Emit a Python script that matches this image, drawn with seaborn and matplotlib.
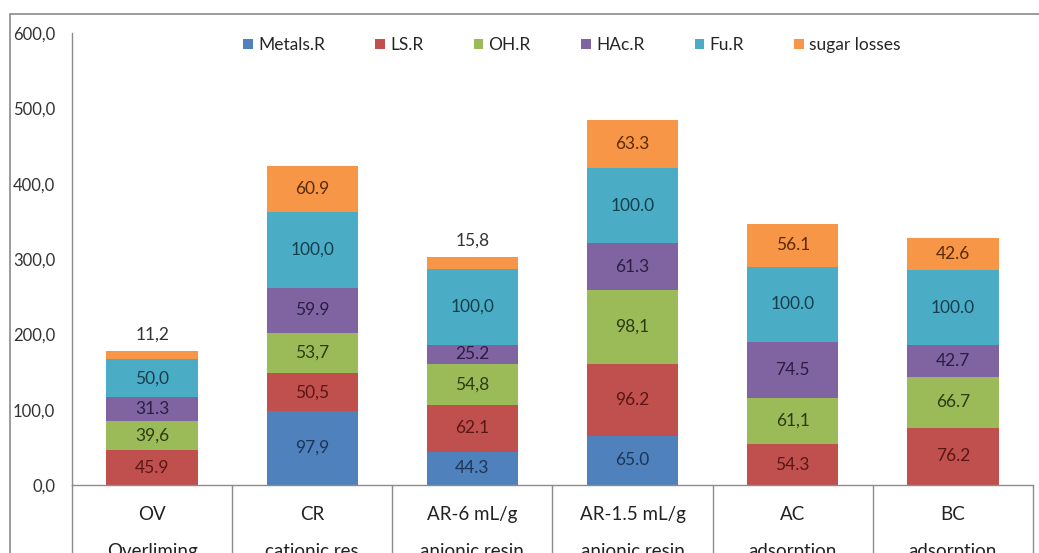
import matplotlib
matplotlib.use('Agg')
import matplotlib.pyplot as plt
import matplotlib.transforms as mtransforms
from matplotlib.patches import Rectangle
import seaborn as sns
import numpy as np
import pandas as pd

# data
categories = ['OV', 'CR', 'AR-6 mL/g', 'AR-1.5 mL/g', 'AC', 'BC']
sub_labels = ['Overliming', 'cationic res', 'anionic resin', 'anionic resin', 'adsorption', 'adsorption']
series = ['Metals.R', 'LS.R', 'OH.R', 'HAc.R', 'Fu.R', 'sugar losses']

metals = [0.0, 97.9, 44.3, 65.0, 0.0, 0.0]
ls_r = [45.9, 50.5, 62.1, 96.2, 54.3, 76.2]
oh_r = [39.6, 53.7, 54.8, 98.1, 61.1, 66.7]
hac_r = [31.3, 59.9, 25.2, 61.3, 74.5, 42.7]
fu_r = [50.0, 100.0, 100.0, 100.0, 100.0, 100.0]
sugar = [11.2, 60.9, 15.8, 63.3, 56.1, 42.6]

# label strings as printed (mixed decimal separators in the original)
metals_txt = ['', '97,9', '44.3', '65.0', '', '']
ls_txt = ['45.9', '50,5', '62.1', '96.2', '54.3', '76.2']
oh_txt = ['39,6', '53,7', '54,8', '98,1', '61,1', '66.7']
hac_txt = ['31.3', '59.9', '25.2', '61.3', '74.5', '42.7']
fu_txt = ['50,0', '100,0', '100,0', '100.0', '100.0', '100.0']
sugar_txt = ['11,2', '60.9', '15,8', '63.3', '56.1', '42.6']

yticks = [0, 100, 200, 300, 400, 500, 600]

colors = ['#4F81BD', '#C0504D', '#9BBB59', '#8064A2', '#4BACC6', '#F79646']
text_colors = ['#1c3557', '#5a1714', '#2e3b12', '#2c1d45', '#163f4d', '#5b2a08']

sns.set_theme(style='white')
plt.rcParams['font.family'] = ['Lato', 'DejaVu Sans']

fig = plt.figure(figsize=(10.39, 5.53), dpi=100)
ax = fig.add_axes([0.0693, 0.123, 0.9249, 0.8173])

values = [metals, ls_r, oh_r, hac_r, fu_r, sugar]
texts = [metals_txt, ls_txt, oh_txt, hac_txt, fu_txt, sugar_txt]

bottom = np.zeros(len(categories))
for name, vals, col in zip(series, values, colors):
    df = pd.DataFrame({'cat': categories, 'val': vals})
    sns.barplot(data=df, x='cat', y='val', order=categories, color=col, width=0.57,
                bottom=bottom.copy(), errorbar=None, label=name, ax=ax,
                saturation=1, linewidth=0)
    bottom += np.array(vals)

# segment labels
for k, cont in enumerate(ax.containers):
    for i, p in enumerate(cont.patches):
        txt = texts[k][i]
        if not txt:
            continue
        cx = p.get_x() + p.get_width() / 2
        if p.get_height() < 20:
            ax.text(cx, p.get_y() + p.get_height() + 11, txt, ha='center', va='bottom',
                    fontsize=12.5, color='#333333')
        else:
            ax.text(cx, p.get_y() + p.get_height() / 2, txt, ha='center', va='center',
                    fontsize=12.5, color=text_colors[k])

ax.set_ylim(0, 600)
ax.set_xlim(-0.5, len(categories) - 0.5)
ax.set_yticks(yticks)
ax.set_yticklabels([f'{v:.1f}'.replace('.', ',') for v in yticks])
ax.set_xticks(range(len(categories)))
ax.set_xticklabels([f'{c}\n{s}' for c, s in zip(categories, sub_labels)], linespacing=2.45)
ax.tick_params(axis='y', length=0, pad=12, labelsize=12, labelcolor='#333333')
ax.tick_params(axis='x', length=0, pad=15, labelsize=13.5, labelcolor='#222222')
for lab in ax.get_xticklabels():
    lab.set_verticalalignment('top')
ax.set_xlabel('')
ax.set_ylabel('')

sns.despine(ax=ax, top=True, right=True)
for sp in ['left', 'bottom']:
    ax.spines[sp].set_color('#8c8c8c')
    ax.spines[sp].set_linewidth(1.0)

# category table separators below the axis
trans = mtransforms.blended_transform_factory(ax.transData, ax.transAxes)
for xb in np.arange(-0.5, len(categories), 1.0):
    ax.plot([xb, xb], [0, -0.2], transform=trans, color='#8c8c8c', lw=1.0, clip_on=False)

# outer chart frame (cut by the image edge)
fig.add_artist(Rectangle((10 / 1039, -0.1), 1.2, 1 - 14 / 553 + 0.1, transform=fig.transFigure,
                         fill=False, edgecolor='#8a8a8a', lw=1.2))

ax.legend(loc='center', bbox_to_anchor=(572 / 1039, 1 - 45 / 553), bbox_transform=fig.transFigure,
          ncol=6, frameon=False, fontsize=12.5, handlelength=0.55, handleheight=0.55,
          handletextpad=0.3, columnspacing=2.9)

fig.savefig('out.png', dpi=100)
